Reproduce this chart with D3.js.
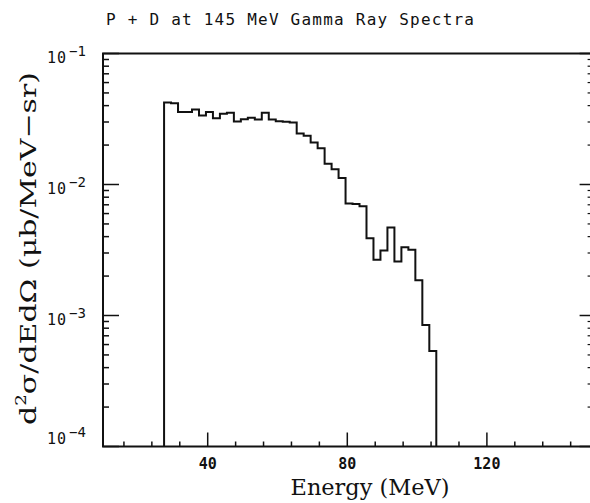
<!DOCTYPE html>
<html>
<head>
<meta charset="utf-8">
<script src="https://cdn.jsdelivr.net/npm/d3@7"></script>
<style>
  body{margin:0;background:#fff;}
  svg{display:block;}
</style>
</head>
<body>
<div id="grafico"></div>
<script>
// bin edges (MeV) and spectrum values (ub/MeV-sr)
const bordas = [27.5,29.5,31.5,33.5,35.5,37.5,39.5,41.5,43.5,45.5,47.5,49.5,51.5,53.5,55.5,57.5,59.5,61.5,63.5,65.5,
                67.5,69.5,71.5,73.5,75.5,77.5,79.5,81.5,83.5,85.5,87.5,89.5,91.5,93.5,95.5,97.5,99.5,101.5,103.5,105.5];
const valores = [0.0422,0.0417,0.0357,0.0357,0.0373,0.0337,0.0357,0.0321,0.0347,0.0353,
                 0.0302,0.0315,0.0323,0.0313,0.0353,0.0313,0.0304,0.0301,0.0297,0.0245,
                 0.0236,0.0209,0.0189,0.0144,0.0131,0.0112,0.00716,0.0071,0.00683,0.00389,
                 0.00266,0.00313,0.0047,0.00258,0.00332,0.00318,0.00186,0.000848,0.000536];
const xMaior = [40,80,120];
const xMenor = [16,24,32,48,56,64,72,88,96,104,112,128,136,144];
const yMaior = [1e-4,1e-3,1e-2,1e-1];
const yExpo = ['\u22124','\u22123','\u22122','\u22121'];

const W=590, H=503;
const esq=103, dir=591.6, topo=53.5, base=446.5;

const svg=d3.select('#grafico').append('svg').attr('width',W).attr('height',H);

const x=d3.scaleLinear().domain([10,150]).range([esq,dir]);
const y=d3.scaleLog().domain([1e-4,1e-1]).range([base,topo]);

// minor log ticks 2..9 per decade
const yMenor=[];
for(let d=-4; d<-1; d++){
  for(let k=2;k<=9;k++) yMenor.push(k*Math.pow(10,d));
}

const tinta='#111';
const mono='DejaVu Sans Mono, monospace';
const serif='DejaVu Serif, serif';

// frame
svg.append('rect').attr('x',esq).attr('y',topo).attr('width',dir-esq).attr('height',base-topo)
   .attr('fill','none').attr('stroke',tinta).attr('stroke-width',2);

// bottom ticks (inward)
svg.selectAll('.xM').data(xMaior).enter().append('line')
   .attr('x1',d=>x(d)).attr('x2',d=>x(d)).attr('y1',base).attr('y2',base-14)
   .attr('stroke',tinta).attr('stroke-width',1.5);
svg.selectAll('.xm').data(xMenor).enter().append('line')
   .attr('x1',d=>x(d)).attr('x2',d=>x(d)).attr('y1',base).attr('y2',base-5)
   .attr('stroke',tinta).attr('stroke-width',1.5);

// left ticks
svg.selectAll('.yM').data(yMaior).enter().append('line')
   .attr('x1',esq).attr('x2',esq+16).attr('y1',d=>y(d)).attr('y2',d=>y(d))
   .attr('stroke',tinta).attr('stroke-width',1.5);
svg.selectAll('.ym').data(yMenor).enter().append('line')
   .attr('x1',esq).attr('x2',esq+6).attr('y1',d=>y(d)).attr('y2',d=>y(d))
   .attr('stroke',tinta).attr('stroke-width',1.5);

// right ticks
svg.selectAll('.yMd').data(yMaior).enter().append('line')
   .attr('x1',dir).attr('x2',dir-12).attr('y1',d=>y(d)).attr('y2',d=>y(d))
   .attr('stroke',tinta).attr('stroke-width',1.5);
svg.selectAll('.ymd').data(yMenor).enter().append('line')
   .attr('x1',dir).attr('x2',dir-4).attr('y1',d=>y(d)).attr('y2',d=>y(d))
   .attr('stroke',tinta).attr('stroke-width',1.2);

// x tick labels
svg.selectAll('.xl').data(xMaior).enter().append('text')
   .attr('x',d=>x(d)).attr('y',base+22).attr('text-anchor','middle')
   .attr('font-family',mono).attr('font-size',15).attr('font-weight','bold')
   .attr('fill',tinta).text(d=>d);

// y tick labels: 10 with superscript exponent (lowest one sits above its tick)
const dy = d => d===1e-4 ? -3 : 9;
svg.selectAll('.yl').data(yMaior).enter().append('text')
   .attr('x',67).attr('y',d=>y(d)+dy(d)).attr('text-anchor','end')
   .attr('font-family',mono).attr('font-size',15).attr('letter-spacing',1)
   .attr('fill',tinta).text('10');
svg.selectAll('.ye').data(yMaior).enter().append('text')
   .attr('x',69).attr('y',d=>y(d)+dy(d)-7)
   .attr('font-family',mono).attr('font-size',14)
   .attr('fill',tinta).text((d,i)=>yExpo[i]);

// histogram
const pts=[[bordas[0],1e-4]];
bordas.forEach((b,i)=>{ pts.push([b, i<valores.length ? valores[i] : 1e-4]); });
const linha=d3.line().x(d=>x(d[0])).y(d=>y(d[1])).curve(d3.curveStepAfter);
svg.append('path').attr('d',linha(pts)).attr('fill','none')
   .attr('stroke',tinta).attr('stroke-width',2).attr('stroke-linejoin','miter');

// title
svg.append('text').attr('x',290).attr('y',25).attr('text-anchor','middle')
   .attr('font-family',mono).attr('font-size',16)
   .attr('textLength',368).attr('lengthAdjust','spacing')
   .attr('fill',tinta).text('P + D at 145 MeV Gamma Ray Spectra');

// x axis title
svg.append('text').attr('x',370).attr('y',495).attr('text-anchor','middle')
   .attr('font-family',serif).attr('font-size',22)
   .attr('textLength',159).attr('lengthAdjust','spacingAndGlyphs')
   .attr('fill',tinta).text('Energy (MeV)');

// y axis title
const yt=svg.append('text').attr('transform','translate(36,248.5) rotate(-90)').attr('text-anchor','middle')
   .attr('font-family',serif).attr('font-size',23)
   .attr('textLength',353).attr('lengthAdjust','spacingAndGlyphs')
   .attr('fill',tinta);
yt.append('tspan').text('d');
yt.append('tspan').attr('font-size',14).attr('dy',-10).text('2');
yt.append('tspan').attr('dy',10).text('\u03c3/dEd\u03a9 (\u03bcb/MeV\u2212sr)');
</script>
</body>
</html>
